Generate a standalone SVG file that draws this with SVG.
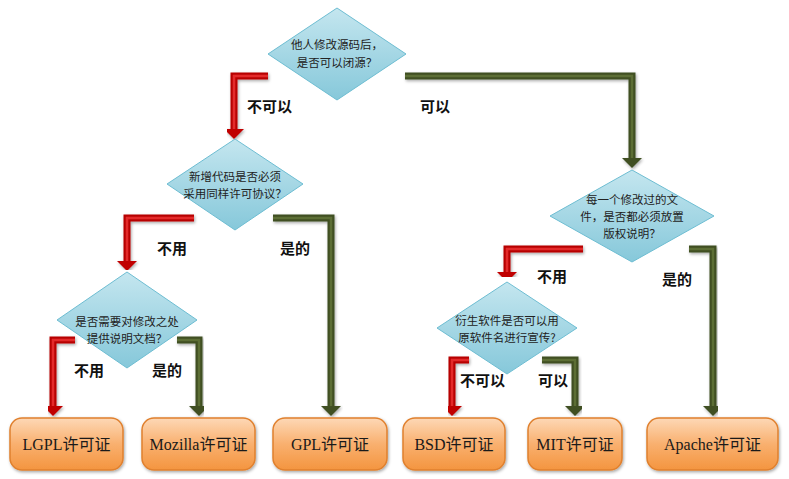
<svg xmlns="http://www.w3.org/2000/svg" width="789" height="479" viewBox="0 0 789 479">
<defs>
<linearGradient id="dg" x1="0" y1="0" x2="0" y2="1">
<stop offset="0" stop-color="#c4e6ef"/>
<stop offset="1" stop-color="#86c8da"/>
</linearGradient>
<linearGradient id="bg" x1="0" y1="0" x2="0" y2="1">
<stop offset="0" stop-color="#fdd8b6"/>
<stop offset="0.5" stop-color="#f9b06f"/>
<stop offset="1" stop-color="#f4953f"/>
</linearGradient>
<filter id="sh" x="-20%" y="-20%" width="140%" height="140%">
<feDropShadow dx="1" dy="1.5" stdDeviation="1.5" flood-color="#000" flood-opacity="0.35"/>
</filter>
<marker id="ar" viewBox="0 0 10 20" refX="0" refY="10" markerWidth="10" markerHeight="20" markerUnits="userSpaceOnUse" orient="auto">
<path d="M0,0 L10,10 L0,20 z" fill="#c00000"/>
</marker>
<marker id="ag" viewBox="0 0 10 20" refX="0" refY="10" markerWidth="10" markerHeight="20" markerUnits="userSpaceOnUse" orient="auto">
<path d="M0,0 L10,10 L0,20 z" fill="#3f4f22"/>
</marker>
</defs>
<style>
.d{fill:url(#dg);stroke:#6dbdd2;stroke-width:1}
.dt{font-family:"Noto Sans CJK SC","Liberation Sans",sans-serif;font-size:11.5px;fill:#222;text-anchor:middle}
.b{fill:url(#bg);stroke:#e0802e;stroke-width:1.5;filter:url(#sh)}
.bt{font-family:"Liberation Serif","Noto Sans CJK SC",serif;font-size:16px;fill:#1a1a1a;text-anchor:middle}
.l{font-family:"Noto Sans CJK SC","Liberation Sans",sans-serif;font-size:15px;font-weight:bold;fill:#111}
.ro{fill:none;stroke:#b80000;stroke-width:7;stroke-linejoin:miter;marker-end:url(#ar)}
.ri{fill:none;stroke:#e42a2a;stroke-width:2.5;stroke-linejoin:miter}
.go{fill:none;stroke:#3f4f22;stroke-width:7;stroke-linejoin:miter;marker-end:url(#ag)}
.gi{fill:none;stroke:#5b6e35;stroke-width:2.5;stroke-linejoin:miter}
.cn{filter:url(#sh)}
</style>

<g id="connectors">
<g class="cn"><path class="ro" d="M268,76 H234 V129"/><path class="ri" d="M268,76 H234 V129"/></g>
<g class="cn"><path class="go" d="M405,76 H632 V158"/><path class="gi" d="M405,76 H632 V158"/></g>
<g class="cn"><path class="ro" d="M194,218 H127 V261"/><path class="ri" d="M194,218 H127 V261"/></g>
<g class="cn"><path class="go" d="M273,218 H331 V406"/><path class="gi" d="M273,218 H331 V406"/></g>
<g class="cn"><path class="ro" d="M75,340 H53 V406"/><path class="ri" d="M75,340 H53 V406"/></g>
<g class="cn"><path class="go" d="M177,340 H199 V406"/><path class="gi" d="M177,340 H199 V406"/></g>
<g class="cn"><path class="ro" d="M583,249 H507 V272"/><path class="ri" d="M583,249 H507 V272"/></g>
<g class="cn"><path class="go" d="M689,249 H713 V406"/><path class="gi" d="M689,249 H713 V406"/></g>
<g class="cn"><path class="ro" d="M469,360 H452 V406"/><path class="ri" d="M469,360 H452 V406"/></g>
<g class="cn"><path class="go" d="M542,360 H575 V406"/><path class="gi" d="M542,360 H575 V406"/></g>
<text class="l" x="247" y="112">不可以</text>
<text class="l" x="420" y="112">可以</text>
<text class="l" x="157" y="254">不用</text>
<text class="l" x="280" y="254">是的</text>
<text class="l" x="74" y="376">不用</text>
<text class="l" x="152" y="376">是的</text>
<text class="l" x="537" y="282">不用</text>
<text class="l" x="662" y="285">是的</text>
<text class="l" x="460" y="386">不可以</text>
<text class="l" x="538" y="386">可以</text>
</g>

<g id="q1">
<polygon class="d" points="337,8 406,54 337,100 268,54"/>
<text class="dt" x="337" y="49">他人修改源码后，</text>
<text class="dt" x="337" y="67">是否可以闭源？</text>
</g>
<g id="q2">
<polygon class="d" points="235,139 303,184 235,230 167,184"/>
<text class="dt" x="235" y="181">新增代码是否必须</text>
<text class="dt" x="235" y="198">采用同样许可协议？</text>
</g>
<g id="q3">
<polygon class="d" points="127,272 197,320 127,368 57,320"/>
<text class="dt" x="127" y="326">是否需要对修改之处</text>
<text class="dt" x="127" y="343">提供说明文档？</text>
</g>
<g id="q4">
<polygon class="d" points="632,170 714,216 632,262 550,216"/>
<text class="dt" x="632" y="204">每一个修改过的文</text>
<text class="dt" x="632" y="221">件，是否都必须放置</text>
<text class="dt" x="632" y="238">版权说明？</text>
</g>
<g id="q5">
<polygon class="d" points="507,282 577,328 507,374 437,328"/>
<text class="dt" x="507" y="325">衍生软件是否可以用</text>
<text class="dt" x="507" y="342">原软件名进行宣传?</text>
</g>

<g id="lgpl"><rect class="b" x="10" y="418" width="113" height="52" rx="12"/><text class="bt" x="66.5" y="450">LGPL许可证</text></g>
<g id="mozilla"><rect class="b" x="142" y="418" width="113" height="52" rx="12"/><text class="bt" x="198.5" y="450">Mozilla许可证</text></g>
<g id="gpl"><rect class="b" x="273" y="418" width="114" height="52" rx="12"/><text class="bt" x="330" y="450">GPL许可证</text></g>
<g id="bsd"><rect class="b" x="403" y="418" width="102" height="52" rx="12"/><text class="bt" x="454" y="450">BSD许可证</text></g>
<g id="mit"><rect class="b" x="528" y="418" width="94" height="52" rx="12"/><text class="bt" x="575" y="450">MIT许可证</text></g>
<g id="apache"><rect class="b" x="647" y="418" width="131" height="52" rx="12"/><text class="bt" x="712.5" y="450">Apache许可证</text></g>
</svg>
